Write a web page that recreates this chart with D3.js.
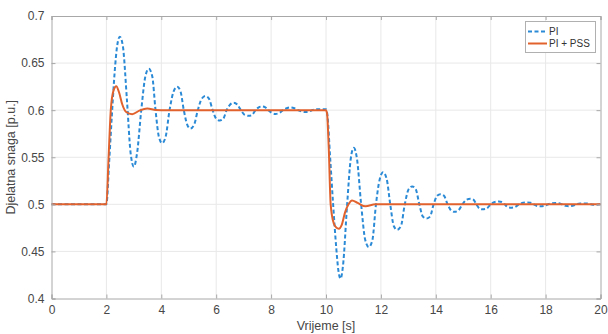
<!DOCTYPE html>
<html>
<head>
<meta charset="utf-8">
<script src="https://cdn.jsdelivr.net/npm/d3@7"></script>
<style>
  html, body { margin: 0; padding: 0; background: #fff; }
  svg { display: block; font-family: "Liberation Sans", Arial, Helvetica, sans-serif; }
</style>
</head>
<body>
<svg id="chart" width="608" height="334"></svg>
<script>
// ---- data ----
const xTicks = [0, 2, 4, 6, 8, 10, 12, 14, 16, 18, 20];
const yTicks = [0.4, 0.45, 0.5, 0.55, 0.6, 0.65, 0.7];
const yTickLabels = ["0.4", "0.45", "0.5", "0.55", "0.6", "0.65", "0.7"];
const seriesNames = ["PI", "PI + PSS"];

// PI (dashed): time [s]
const piTime = [0, 2, 2.1, 2.2, 2.3, 2.4, 2.49, 2.6, 2.75, 2.88, 3.0, 3.12, 3.27, 3.42, 3.545, 3.67, 3.79, 3.91, 4.03, 4.16, 4.3, 4.45, 4.58, 4.7, 4.82, 4.94, 5.06, 5.2, 5.33, 5.47, 5.61, 5.74, 5.87, 6.0, 6.13, 6.26, 6.38, 6.51, 6.64, 6.77, 6.9, 7.04, 7.19, 7.31, 7.43, 7.55, 7.67, 7.79, 7.9, 8.03, 8.16, 8.3, 8.43, 8.57, 8.71, 8.85, 8.98, 9.12, 9.25, 9.38, 9.5, 9.62, 9.75, 9.9, 10.0, 10.05, 10.15, 10.26, 10.37, 10.45, 10.53, 10.62, 10.77, 10.9, 11.01, 11.13, 11.28, 11.43, 11.56, 11.69, 11.82, 11.96, 12.08, 12.21, 12.34, 12.47, 12.59, 12.73, 12.87, 13.01, 13.14, 13.27, 13.4, 13.53, 13.66, 13.79, 13.92, 14.05, 14.17, 14.3, 14.43, 14.56, 14.68, 14.82, 14.97, 15.12, 15.26, 15.37, 15.48, 15.59, 15.69, 15.85, 16.0, 16.15, 16.3, 16.4, 16.51, 16.62, 16.72, 16.87, 17.03, 17.18, 17.33, 17.45, 17.57, 17.69, 17.81, 17.95, 18.09, 18.23, 18.36, 18.48, 18.6, 18.73, 18.85, 18.98, 19.12, 19.26, 19.39, 19.52, 19.66, 19.8, 20];
// PI power [p.u.]
const piValue = [0.5, 0.5, 0.545, 0.595, 0.64, 0.67, 0.678, 0.668, 0.61, 0.555, 0.540, 0.555, 0.6, 0.636, 0.644, 0.636, 0.6, 0.572, 0.565, 0.572, 0.6, 0.62, 0.625, 0.62, 0.6, 0.585, 0.5805, 0.585, 0.6, 0.612, 0.615, 0.612, 0.6, 0.591, 0.589, 0.591, 0.6, 0.606, 0.608, 0.606, 0.6, 0.595, 0.594, 0.595, 0.6, 0.603, 0.604, 0.603, 0.6, 0.597, 0.596, 0.597, 0.6, 0.602, 0.603, 0.602, 0.6, 0.5985, 0.598, 0.5985, 0.6, 0.6008, 0.601, 0.601, 0.601, 0.595, 0.55, 0.5, 0.455, 0.43, 0.421, 0.435, 0.5, 0.548, 0.560, 0.548, 0.5, 0.462, 0.4546, 0.462, 0.5, 0.527, 0.534, 0.527, 0.5, 0.477, 0.473, 0.477, 0.5, 0.516, 0.519, 0.516, 0.5, 0.487, 0.485, 0.487, 0.5, 0.509, 0.5106, 0.509, 0.5, 0.4935, 0.492, 0.4935, 0.5, 0.505, 0.506, 0.505, 0.5, 0.4955, 0.4947, 0.4955, 0.5, 0.5025, 0.503, 0.5025, 0.5, 0.497, 0.4965, 0.497, 0.5, 0.5017, 0.502, 0.5017, 0.5, 0.4983, 0.4979, 0.4983, 0.5, 0.5011, 0.5013, 0.5011, 0.5, 0.4984, 0.498, 0.4984, 0.5, 0.5009, 0.501, 0.5009, 0.5, 0.4995, 0.5];

// PI + PSS (solid): time [s]
const pssTime = [0, 2, 2.08, 2.16, 2.26, 2.36, 2.46, 2.58, 2.72, 2.94, 3.2, 3.49, 3.8, 4.2, 10.0, 10.04, 10.1, 10.17, 10.28, 10.38, 10.47, 10.57, 10.7, 10.82, 10.95, 11.15, 11.44, 11.8, 20];
// PI + PSS power [p.u.]
const pssValue = [0.5, 0.5, 0.55, 0.6, 0.621, 0.6255, 0.619, 0.606, 0.598, 0.5957, 0.5995, 0.6018, 0.6003, 0.6, 0.6, 0.596, 0.56, 0.5, 0.48, 0.4752, 0.4742, 0.478, 0.492, 0.5, 0.5041, 0.5015, 0.4979, 0.5, 0.5];

// ---- layout ----
const svg = d3.select("#chart");
const W = 608, H = 334;
const m = { left: 51.5, right: 7.5, top: 16, bottom: 35.5 };
const pw = W - m.left - m.right, ph = H - m.top - m.bottom;

const x = d3.scaleLinear().domain([0, 20]).range([m.left, m.left + pw]);
const y = d3.scaleLinear().domain([0.4, 0.7]).range([m.top + ph, m.top]);

const gridColor = "#e8e8e8", boxColor = "#a8a8a8", textColor = "#474747";

// grid
const grid = svg.append("g");
grid.selectAll("line.gx").data(xTicks.slice(1, -1)).join("line")
  .attr("x1", d => x(d)).attr("x2", d => x(d))
  .attr("y1", m.top).attr("y2", m.top + ph)
  .attr("stroke", gridColor).attr("stroke-width", 1);
grid.selectAll("line.gy").data(yTicks.slice(1, -1)).join("line")
  .attr("y1", d => y(d)).attr("y2", d => y(d))
  .attr("x1", m.left).attr("x2", m.left + pw)
  .attr("stroke", gridColor).attr("stroke-width", 1);

// axes (ticks inward)
const xAxis = d3.axisBottom(x).tickValues(xTicks).tickSize(-4).tickPadding(7).tickFormat(d3.format("d"));
const yAxis = d3.axisLeft(y).tickValues(yTicks).tickSize(-4).tickPadding(7).tickFormat((d, i) => yTickLabels[i]);
const xTop = d3.axisTop(x).tickValues(xTicks).tickSize(-4).tickFormat("");
const yRight = d3.axisRight(y).tickValues(yTicks).tickSize(-4).tickFormat("");

function style(g) {
  g.selectAll("path").attr("stroke", boxColor).attr("stroke-width", 1);
  g.selectAll("line").attr("stroke", boxColor);
  g.selectAll("text").attr("fill", textColor).style("font-size", "12px")
    .style("font-family", '"Liberation Sans", Arial, sans-serif');
}

// lines
const line = d3.line().x(d => x(d[0])).y(d => y(d[1])).curve(d3.curveMonotoneX);
const piData = piTime.map((t, i) => [t, piValue[i]]);
const pssData = pssTime.map((t, i) => [t, pssValue[i]]);

const plot = svg.append("g");
plot.append("path").datum(piData).attr("d", line)
  .attr("fill", "none").attr("stroke", "#2b8ad6").attr("stroke-width", 2)
  .attr("stroke-dasharray", "4,2.5");
plot.append("path").datum(pssData).attr("d", line)
  .attr("fill", "none").attr("stroke", "#e2622e").attr("stroke-width", 2);

svg.append("g").attr("transform", `translate(0,${m.top + ph})`).call(xAxis).call(style);
svg.append("g").attr("transform", `translate(${m.left},0)`).call(yAxis).call(style);
svg.append("g").attr("transform", `translate(0,${m.top})`).call(xTop).call(style);
svg.append("g").attr("transform", `translate(${m.left + pw},0)`).call(yRight).call(style);

// axis titles
svg.append("text").attr("x", m.left + pw / 2).attr("y", 330)
  .attr("text-anchor", "middle").attr("fill", textColor)
  .style("font-size", "12.5px").text("Vrijeme [s]");
svg.append("text").attr("transform", `translate(15,${m.top + ph / 2}) rotate(-90)`)
  .attr("text-anchor", "middle").attr("fill", textColor)
  .style("font-size", "12.5px").text("Djelatna snaga [p.u.]");

// legend
const lg = svg.append("g");
lg.append("rect").attr("x", 525.5).attr("y", 21.5).attr("width", 70).attr("height", 31)
  .attr("fill", "#fff").attr("stroke", "#b0b0b0").attr("stroke-width", 1);
const legendColors = ["#2b8ad6", "#e2622e"];
const legendDash = ["4,2.5", null];
seriesNames.forEach((name, i) => {
  const yy = 31.5 + i * 12;
  lg.append("line").attr("x1", 528).attr("x2", 547).attr("y1", yy).attr("y2", yy)
    .attr("stroke", legendColors[i]).attr("stroke-width", 2)
    .attr("stroke-dasharray", legendDash[i]);
  lg.append("text").attr("x", 549).attr("y", yy + 3.5).attr("fill", "#333")
    .style("font-size", "10px").text(name);
});
</script>
</body>
</html>
